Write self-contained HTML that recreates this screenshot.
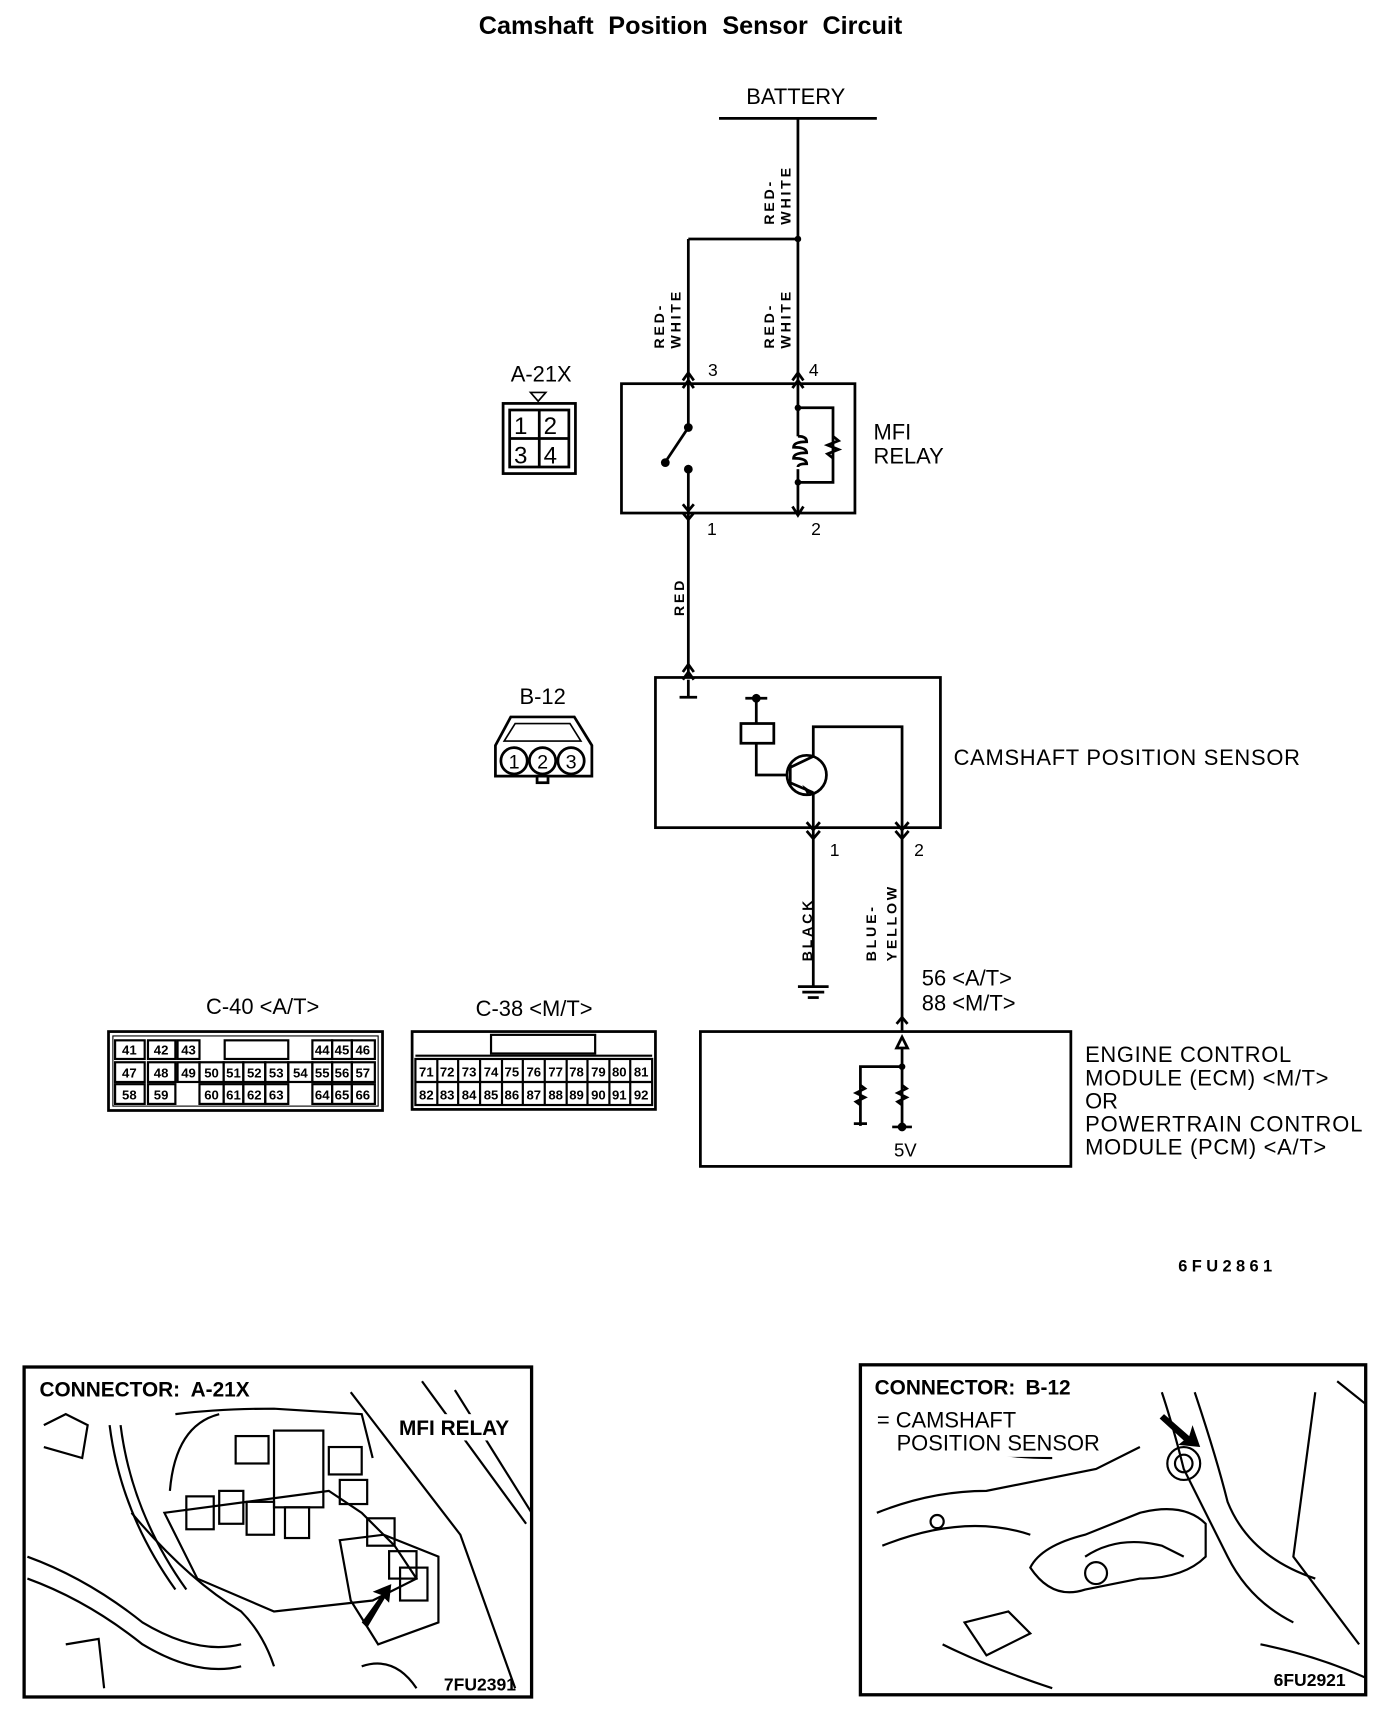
<!DOCTYPE html>
<html><head><meta charset="utf-8"><style>
html,body{margin:0;padding:0;background:#fff}
svg{display:block}
text{font-family:"Liberation Sans",sans-serif;fill:#000}
.t{font-size:20px}
.v{font-size:13px;font-weight:bold;letter-spacing:2.5px}
.c{font-size:12px;font-weight:bold}
</style></head><body>
<svg width="1392" height="1720" viewBox="0 0 1270 1569" preserveAspectRatio="none" xmlns="http://www.w3.org/2000/svg">
<g stroke="#000" stroke-width="2.5" fill="none">
<line x1="656" y1="108" x2="800" y2="108"/>
<line x1="728" y1="108" x2="728" y2="350"/>
<line x1="628" y1="218" x2="728" y2="218"/>
<line x1="628" y1="218" x2="628" y2="350"/>
<rect x="567" y="350" width="213" height="118"/>
<polyline points="623,347 628,340 633,347"/><polyline points="623,354 628,347 633,354"/>
<polyline points="723,347 728,340 733,347"/><polyline points="723,354 728,347 733,354"/>
<line x1="628" y1="350" x2="628" y2="388"/>
<line x1="628" y1="428" x2="628" y2="617"/>
<line x1="628" y1="390" x2="608" y2="420"/>
<polyline points="623,460 628,466 633,460"/><polyline points="623,468 628,474 633,468"/>
<polyline points="723,462 728,470 733,462"/>
<line x1="728" y1="350" x2="728" y2="398"/>
<line x1="728" y1="428" x2="728" y2="470"/>
<path d="M728,398 q8,0 8,5 q-12,0 -12,5 q12,0 12,5 q-12,0 -12,5 q12,0 12,5 q-8,0 -8,3"/>
<polyline points="728,372 760,372 760,440 728,440"/>
<polyline points="760,398 765,402 755,406 765,410 755,414 760,418"/>
<rect x="598" y="618" width="260" height="137"/>
<polyline points="623,613 628,606 633,613"/><polyline points="623,620 628,613 633,620"/>
<line x1="628" y1="620" x2="628" y2="636"/>
<line x1="620" y1="636" x2="636" y2="636"/>
<line x1="690" y1="637" x2="690" y2="660"/>
<line x1="680" y1="637" x2="700" y2="637"/>
<rect x="676" y="660" width="30" height="18"/>
<polyline points="690,678 690,707 718,707"/>
<circle cx="736" cy="707" r="18"/>
<line x1="721" y1="697" x2="721" y2="717"/>
<polyline points="721,700 742,690 742,663 823,663 823,940"/>
<line x1="721" y1="714" x2="742" y2="723"/>
<line x1="742" y1="723" x2="742" y2="900"/>
<polyline points="736,750 742,757 748,750"/><polyline points="736,758 742,765 748,758"/>
<polyline points="817,750 823,757 829,750"/><polyline points="817,758 823,765 829,758"/>
<line x1="728" y1="900" x2="756" y2="900"/>
<line x1="732" y1="905" x2="752" y2="905"/>
<line x1="737" y1="910" x2="747" y2="910"/>
<rect x="639" y="941" width="338" height="123"/>
<polyline points="818,934 823,928 828,934"/>
<polygon points="823,946 818,956 828,956"/>
<line x1="823" y1="956" x2="823" y2="1027"/>
<polyline points="785,1027 785,973 823,973"/>
<polyline points="785,990 789,993 781,997 789,1001 781,1005 785,1008"/>
<polyline points="823,990 827,993 819,997 827,1001 819,1005 823,1008"/>
<line x1="779" y1="1025" x2="791" y2="1025"/>
<line x1="814" y1="1028" x2="832" y2="1028"/>
<rect x="459" y="368" width="66" height="64"/>
<rect x="465" y="374" width="54" height="52"/>
<line x1="492" y1="374" x2="492" y2="426"/><line x1="465" y1="400" x2="519" y2="400"/>
<polygon points="484,358 498,358 491,366" stroke-width="1.5"/>
<path d="M466,654 L524,654 L540,680 L540,708 L452,708 L452,680 Z"/>
<path d="M470,660 L520,660 L530,676 L460,676 Z" stroke-width="1.5"/>
<circle cx="469" cy="694" r="12"/><circle cx="495" cy="694" r="12"/><circle cx="521" cy="694" r="12"/>
<rect x="490" y="708" width="10" height="6"/>
<rect x="99" y="941" width="250" height="72"/>
<rect x="103" y="945" width="242" height="64" stroke-width="1"/>
</g>
<g stroke="#000" stroke-width="2" fill="none">
<rect x="105" y="949" width="27" height="17"/><rect x="135" y="949" width="25" height="17"/><rect x="162" y="949" width="20" height="17"/>
<rect x="205" y="949" width="58" height="17"/>
<rect x="285" y="949" width="18" height="17"/><rect x="303" y="949" width="18" height="17"/><rect x="321" y="949" width="21" height="17"/>
<rect x="105" y="969" width="27" height="18"/><rect x="135" y="969" width="25" height="18"/><rect x="162" y="969" width="20" height="18"/>
<rect x="182" y="969" width="22" height="18"/><rect x="204" y="969" width="18" height="18"/><rect x="222" y="969" width="20" height="18"/><rect x="242" y="969" width="21" height="18"/><rect x="263" y="969" width="22" height="18"/><rect x="285" y="969" width="18" height="18"/><rect x="303" y="969" width="18" height="18"/><rect x="321" y="969" width="21" height="18"/>
<rect x="105" y="989" width="27" height="18"/><rect x="135" y="989" width="25" height="18"/>
<rect x="182" y="989" width="22" height="18"/><rect x="204" y="989" width="18" height="18"/><rect x="222" y="989" width="20" height="18"/><rect x="242" y="989" width="21" height="18"/>
<rect x="285" y="989" width="18" height="18"/><rect x="303" y="989" width="18" height="18"/><rect x="321" y="989" width="21" height="18"/>
<rect x="376" y="941" width="222" height="71" stroke-width="2.5"/>
<rect x="448" y="944" width="95" height="17"/>
<line x1="379" y1="963" x2="595" y2="963"/>
<rect x="379" y="966" width="216" height="42"/>
<line x1="379" y1="987" x2="595" y2="987"/>
<line x1="399" y1="966" x2="399" y2="1008"/><line x1="418" y1="966" x2="418" y2="1008"/><line x1="438" y1="966" x2="438" y2="1008"/><line x1="458" y1="966" x2="458" y2="1008"/><line x1="477" y1="966" x2="477" y2="1008"/><line x1="497" y1="966" x2="497" y2="1008"/><line x1="517" y1="966" x2="517" y2="1008"/><line x1="536" y1="966" x2="536" y2="1008"/><line x1="556" y1="966" x2="556" y2="1008"/><line x1="575" y1="966" x2="575" y2="1008"/>
</g>
<g fill="#000" stroke="none">
<circle cx="728" cy="218" r="3"/>
<circle cx="628" cy="390" r="4"/><circle cx="628" cy="428" r="4"/><circle cx="607" cy="422" r="4"/>
<circle cx="728" cy="372" r="3"/><circle cx="728" cy="440" r="3"/>
<circle cx="690" cy="637" r="4"/>
<polygon points="742,723 732,716 736,724"/>
<circle cx="823" cy="973" r="3"/><circle cx="823" cy="1028" r="4"/>
</g>
<text x="630" y="31" text-anchor="middle" style="font-size:23px;font-weight:bold;word-spacing:7px">Camshaft Position Sensor Circuit</text>
<text x="726" y="95" text-anchor="middle" class="t">BATTERY</text>
<g class="v">
<text transform="translate(706,205) rotate(-90)">RED-</text><text transform="translate(721,205) rotate(-90)">WHITE</text>
<text transform="translate(606,318) rotate(-90)">RED-</text><text transform="translate(621,318) rotate(-90)">WHITE</text>
<text transform="translate(706,318) rotate(-90)">RED-</text><text transform="translate(721,318) rotate(-90)">WHITE</text>
<text transform="translate(624,562) rotate(-90)">RED</text>
<text transform="translate(741,877) rotate(-90)">BLACK</text>
<text transform="translate(799,877) rotate(-90)">BLUE-</text><text transform="translate(818,877) rotate(-90)">YELLOW</text>
</g>
<text x="646" y="343" style="font-size:16px">3</text>
<text x="738" y="343" style="font-size:16px">4</text>
<text x="645" y="488" style="font-size:16px">1</text>
<text x="740" y="488" style="font-size:16px">2</text>
<text x="757" y="781" style="font-size:16px">1</text>
<text x="834" y="781" style="font-size:16px">2</text>
<text x="797" y="401" class="t">MFI</text><text x="797" y="423" class="t">RELAY</text>
<text x="466" y="348" class="t">A-21X</text>
<text x="474" y="642" class="t">B-12</text>
<text x="469" y="396" style="font-size:22px">1</text><text x="496" y="396" style="font-size:22px">2</text><text x="469" y="423" style="font-size:22px">3</text><text x="496" y="423" style="font-size:22px">4</text>
<text x="469" y="701" text-anchor="middle" style="font-size:18px">1</text><text x="495" y="701" text-anchor="middle" style="font-size:18px">2</text><text x="521" y="701" text-anchor="middle" style="font-size:18px">3</text>
<text x="870" y="698" class="t" textLength="316">CAMSHAFT POSITION SENSOR</text>
<text x="841" y="899" class="t">56 &lt;A/T&gt;</text><text x="841" y="922" class="t">88 &lt;M/T&gt;</text>
<text x="990" y="969" class="t" textLength="188">ENGINE CONTROL</text>
<text x="990" y="990" class="t" textLength="222">MODULE (ECM) &lt;M/T&gt;</text>
<text x="990" y="1011" class="t">OR</text>
<text x="990" y="1032" class="t" textLength="253">POWERTRAIN CONTROL</text>
<text x="990" y="1053" class="t" textLength="220">MODULE (PCM) &lt;A/T&gt;</text>
<text x="826" y="1055" text-anchor="middle" style="font-size:17px">5V</text>
<text x="188" y="925" class="t">C-40 &lt;A/T&gt;</text>
<text x="434" y="927" class="t">C-38 &lt;M/T&gt;</text>
<text x="1075" y="1160" style="font-size:15px;font-weight:bold;letter-spacing:4px">6FU2861</text>
<g class="c" text-anchor="middle">
<text x="118" y="962">41</text><text x="147" y="962">42</text><text x="172" y="962">43</text><text x="294" y="962">44</text><text x="312" y="962">45</text><text x="331" y="962">46</text>
<text x="118" y="983">47</text><text x="147" y="983">48</text><text x="172" y="983">49</text><text x="193" y="983">50</text><text x="213" y="983">51</text><text x="232" y="983">52</text><text x="252" y="983">53</text><text x="274" y="983">54</text><text x="294" y="983">55</text><text x="312" y="983">56</text><text x="331" y="983">57</text>
<text x="118" y="1003">58</text><text x="147" y="1003">59</text><text x="193" y="1003">60</text><text x="213" y="1003">61</text><text x="232" y="1003">62</text><text x="252" y="1003">63</text><text x="294" y="1003">64</text><text x="312" y="1003">65</text><text x="331" y="1003">66</text>
<text x="389" y="982">71</text><text x="408" y="982">72</text><text x="428" y="982">73</text><text x="448" y="982">74</text><text x="467" y="982">75</text><text x="487" y="982">76</text><text x="507" y="982">77</text><text x="526" y="982">78</text><text x="546" y="982">79</text><text x="565" y="982">80</text><text x="585" y="982">81</text>
<text x="389" y="1003">82</text><text x="408" y="1003">83</text><text x="428" y="1003">84</text><text x="448" y="1003">85</text><text x="467" y="1003">86</text><text x="487" y="1003">87</text><text x="507" y="1003">88</text><text x="526" y="1003">89</text><text x="546" y="1003">90</text><text x="565" y="1003">91</text><text x="585" y="1003">92</text>
</g>
<g stroke="#000" stroke-width="2" fill="none">
<rect x="22" y="1247" width="463" height="301" stroke-width="3"/>
<path d="M320,1270 L420,1400 L470,1540"/><path d="M385,1260 L480,1390"/><path d="M415,1268 L485,1380"/>
<path d="M160,1290 Q200,1285 250,1285 L330,1290 L340,1330"/>
<path d="M155,1360 Q160,1300 200,1290"/>
<path d="M150,1380 L300,1360 L330,1380 L360,1410 L380,1440 L340,1460 L250,1470 L180,1440 Z"/>
<rect x="215" y="1310" width="30" height="25"/><rect x="250" y="1305" width="45" height="70"/><rect x="300" y="1320" width="30" height="25"/><rect x="310" y="1350" width="25" height="22"/>
<rect x="170" y="1365" width="25" height="30"/><rect x="200" y="1360" width="22" height="30"/><rect x="225" y="1370" width="25" height="30"/><rect x="260" y="1375" width="22" height="28"/><rect x="335" y="1385" width="25" height="25"/>
<path d="M310,1405 L350,1400 L400,1420 L400,1480 L345,1500 L320,1460 Z"/>
<rect x="355" y="1415" width="25" height="25"/><rect x="365" y="1430" width="25" height="30"/>
<path d="M25,1420 Q80,1440 130,1480 Q180,1510 220,1500"/><path d="M25,1440 Q80,1460 130,1500 Q180,1530 220,1520"/>
<path d="M40,1300 L60,1290 L80,1300 L75,1330 L40,1320"/><path d="M100,1300 Q110,1380 160,1450"/><path d="M110,1300 Q120,1380 170,1450"/>
<path d="M120,1380 Q170,1440 220,1470 Q240,1490 250,1520"/>
<path d="M60,1500 L90,1495 L95,1540"/><path d="M330,1520 Q360,1510 380,1540"/>
</g>
<polygon points="330,1480 348,1455 340,1452 357,1445 355,1462 351,1458 335,1485" fill="#000"/>
<rect x="360" y="1290" width="115" height="24" fill="#fff"/>
<text x="36" y="1274" style="font-size:19px;font-weight:bold;word-spacing:5px">CONNECTOR:  A-21X</text>
<text x="364" y="1309" style="font-size:19px;font-weight:bold">MFI RELAY</text>
<text x="405" y="1542" style="font-size:16px;font-weight:bold">7FU2391</text>
<g stroke="#000" stroke-width="2" fill="none">
<rect x="785" y="1245" width="461" height="301" stroke-width="3"/>
<path d="M800,1380 Q850,1360 900,1360 L1000,1340 L1040,1320"/>
<path d="M805,1410 Q880,1380 940,1400"/><path d="M830,1300 Q880,1330 960,1330"/>
<path d="M940,1430 Q950,1410 990,1400 L1040,1380 Q1080,1370 1100,1390 L1100,1420 Q1080,1440 1040,1440 L990,1450 Q960,1460 940,1430 Z"/>
<path d="M1060,1270 Q1070,1300 1080,1340 Q1100,1380 1120,1420 Q1140,1460 1180,1480"/>
<path d="M1090,1270 Q1110,1330 1120,1370 Q1140,1420 1200,1440"/>
<path d="M1200,1270 L1180,1420 L1240,1500"/><path d="M1220,1260 L1245,1280"/>
<circle cx="1080" cy="1335" r="15"/><circle cx="1080" cy="1335" r="8"/>
<path d="M990,1420 Q1020,1400 1060,1410 L1080,1420"/><circle cx="1000" cy="1435" r="10"/>
<path d="M880,1480 L920,1470 L940,1490 L900,1510 Z"/><path d="M860,1500 Q900,1520 960,1540"/>
<circle cx="855" cy="1388" r="6"/><path d="M1150,1500 Q1200,1510 1245,1530"/>
</g>
<polygon points="1062,1290 1085,1310 1088,1300 1095,1320 1075,1318 1080,1314 1058,1294" fill="#000"/>
<rect x="796" y="1283" width="220" height="46" fill="#fff"/>
<text x="798" y="1272" style="font-size:19px;font-weight:bold;word-spacing:4px">CONNECTOR:  B-12</text>
<text x="800" y="1302" class="t">= CAMSHAFT</text>
<text x="818" y="1323" class="t">POSITION SENSOR</text>
<text x="1162" y="1538" style="font-size:16px;font-weight:bold">6FU2921</text>
</svg>
</body></html>
